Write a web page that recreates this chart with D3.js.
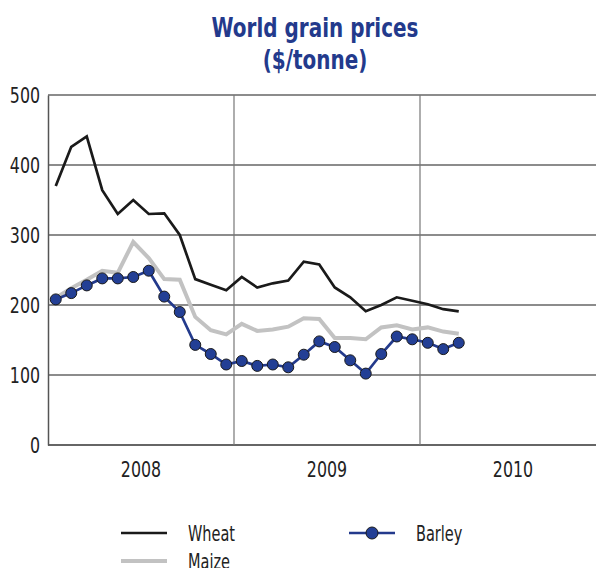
<!DOCTYPE html>
<html>
<head>
<meta charset="utf-8">
<script src="https://cdn.jsdelivr.net/npm/d3@7"></script>
<style>
  body { margin: 0; background: #fff; }
  svg text { font-family: "DejaVu Sans", sans-serif; }
</style>
</head>
<body>
<svg class="chart"></svg>
<script>
// monthly prices, Jan 2008 - Mar 2010
var wheat = [370,426,441,364,330,350,330,331,300,237,229,221,240,225,231,235,262,258,225,211,191,200,211,206,201,194,191];
var maize = [210,224,236,249,246,290,267,237,236,183,164,158,173,163,165,169,181,180,153,153,151,168,171,165,168,162,159];
var barley = [208,217,228,238,238,240,249,212,190,143,130,115,120,113,115,111,129,148,140,121,102,130,155,151,146,137,146];
var years = ["2008", "2009", "2010"];
var yTicks = [0, 100, 200, 300, 400, 500];

var width = 596, height = 568;
var mLeft = 48, mTop = 95, mBottom = 445, mRight = 606;
var squeeze = 0.72; // the original uses a condensed face

var svg = d3.select(".chart")
    .attr("width", width)
    .attr("height", height);

var x = d3.scaleLinear().domain([0, 36]).range([mLeft, mRight]);
var y = d3.scaleLinear().domain([0, 500]).range([mBottom, mTop]);

// title
var title = svg.append("g")
    .attr("transform", "translate(315,0) scale(0.74,1)")
  .append("text")
    .attr("text-anchor", "middle")
    .attr("fill", "#233a8c")
    .attr("font-weight", "bold")
    .attr("font-size", 27);
title.append("tspan").attr("x", 0).attr("y", 37).text("World grain prices");
title.append("tspan").attr("x", 0).attr("y", 69).text("($/tonne)");

// horizontal grid
svg.append("g")
  .selectAll("line")
  .data(yTicks)
  .enter().append("line")
    .attr("x1", mLeft)
    .attr("x2", width)
    .attr("y1", function(d) { return y(d); })
    .attr("y2", function(d) { return y(d); })
    .attr("stroke", function(d) { return d === 0 ? "#333" : "#666"; })
    .attr("stroke-width", 1.5);

// vertical year lines
svg.append("g")
  .selectAll("line")
  .data([12, 24])
  .enter().append("line")
    .attr("x1", function(d) { return x(d); })
    .attr("x2", function(d) { return x(d); })
    .attr("y1", mTop)
    .attr("y2", mBottom)
    .attr("stroke", "#777")
    .attr("stroke-width", 1.2);

// y axis
var yAxis = svg.append("g")
    .attr("transform", "translate(" + mLeft + ",0)")
    .call(d3.axisLeft(y).tickValues(yTicks).tickSize(0).tickPadding(11));
yAxis.select(".domain").attr("stroke", "#555").attr("stroke-width", 1.5);
yAxis.selectAll("text")
    .attr("font-size", 22)
    .attr("fill", "#222")
    .attr("transform", "scale(" + squeeze + ",1)")
    .style("font-family", "'DejaVu Sans', sans-serif");

// year labels
svg.append("g")
  .selectAll("text")
  .data(years)
  .enter().append("text")
    .attr("transform", function(d, i) { return "translate(" + x(i * 12 + 6) + ",477) scale(" + squeeze + ",1)"; })
    .attr("text-anchor", "middle")
    .attr("font-size", 22)
    .attr("fill", "#222")
    .text(function(d) { return d; });

var line = d3.line()
    .x(function(d, i) { return x(i + 0.5); })
    .y(function(d) { return y(d); });

svg.append("path")
    .datum(maize)
    .attr("d", line)
    .attr("fill", "none")
    .attr("stroke", "#c2c2c2")
    .attr("stroke-width", 4);

svg.append("path")
    .datum(wheat)
    .attr("d", line)
    .attr("fill", "none")
    .attr("stroke", "#1a1a1a")
    .attr("stroke-width", 2.7);

svg.append("path")
    .datum(barley)
    .attr("d", line)
    .attr("fill", "none")
    .attr("stroke", "#233a8c")
    .attr("stroke-width", 2.7);

svg.append("g")
  .selectAll("circle")
  .data(barley)
  .enter().append("circle")
    .attr("cx", function(d, i) { return x(i + 0.5); })
    .attr("cy", function(d) { return y(d); })
    .attr("r", 5.5)
    .attr("fill", "#233f95")
    .attr("stroke", "#1a1a1a")
    .attr("stroke-width", 1);

// legend
var legend = [
  {name: "Wheat", color: "#1a1a1a", w: 2.7, x: 121, y: 533, dot: false},
  {name: "Barley", color: "#233a8c", w: 2.7, x: 349, y: 533, dot: true},
  {name: "Maize", color: "#c2c2c2", w: 4, x: 121, y: 561, dot: false}
];
var lg = svg.append("g")
  .selectAll("g")
  .data(legend)
  .enter().append("g")
    .attr("transform", function(d) { return "translate(" + d.x + "," + d.y + ")"; });
lg.append("line")
    .attr("x1", 0).attr("x2", 46)
    .attr("stroke", function(d) { return d.color; })
    .attr("stroke-width", function(d) { return d.w; });
lg.filter(function(d) { return d.dot; }).append("circle")
    .attr("cx", 23)
    .attr("r", 6)
    .attr("fill", "#233f95")
    .attr("stroke", "#1a1a1a")
    .attr("stroke-width", 1);
lg.append("text")
    .attr("transform", "translate(67,8) scale(0.66,1)")
    .attr("font-size", 22)
    .attr("fill", "#222")
    .text(function(d) { return d.name; });
</script>
</body>
</html>
